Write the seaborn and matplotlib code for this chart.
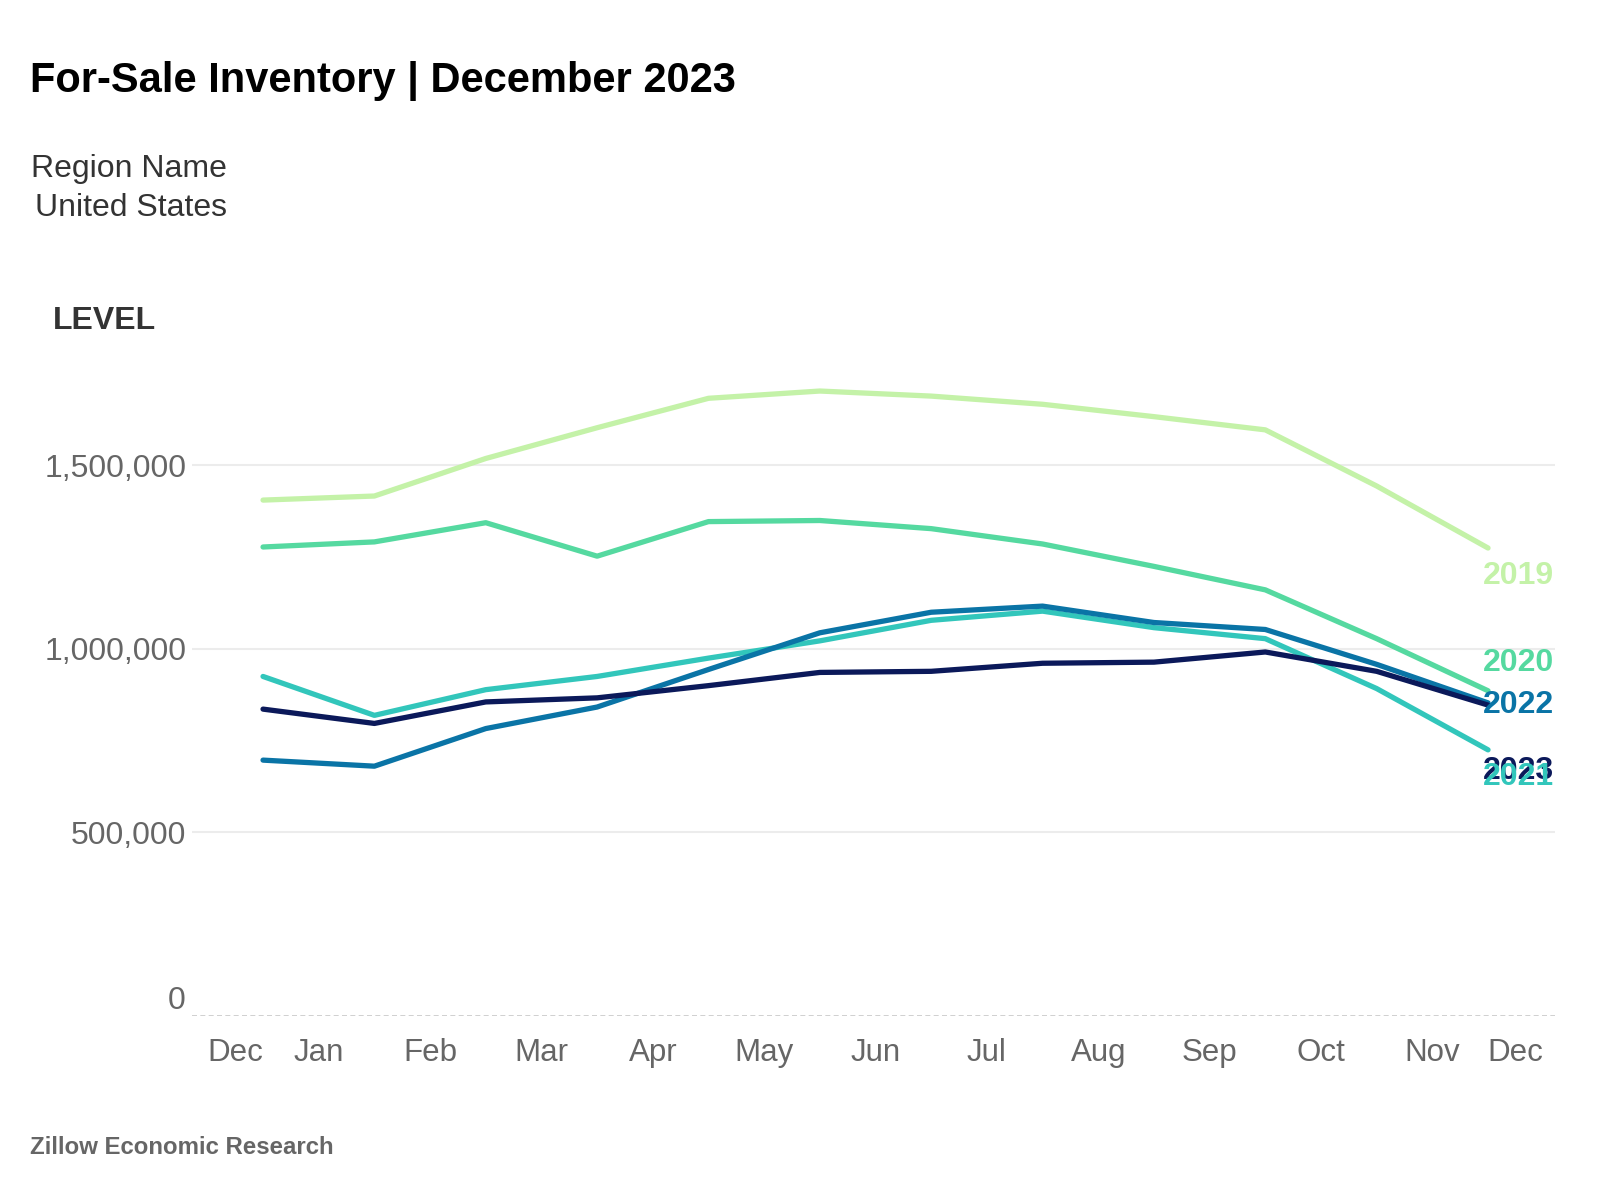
import numpy as np
import pandas as pd
import matplotlib
matplotlib.use("Agg")
import matplotlib.pyplot as plt
import seaborn as sns

# month ticks (Dec 2022 .. Dec 2023 style axis), data sits mid-month
tick_labels = ["Dec", "Jan", "Feb", "Mar", "Apr", "May", "Jun",
               "Jul", "Aug", "Sep", "Oct", "Nov", "Dec"]
months = ["Dec", "Jan", "Feb", "Mar", "Apr", "May", "Jun",
          "Jul", "Aug", "Sep", "Oct", "Nov"]

years = ["2019", "2020", "2021", "2022", "2023"]

inv_2019 = [1405600, 1416700, 1519000, 1602800, 1683000, 1702800,
            1689000, 1666700, 1633000, 1597000, 1444000, 1275000]
inv_2020 = [1277800, 1291700, 1344000, 1252800, 1347000, 1350000,
            1327800, 1286000, 1225000, 1161000, 1028000, 886000]
inv_2021 = [925000, 819000, 889000, 925000, 975000, 1022000,
            1078000, 1103000, 1058000, 1028000, 892000, 725000]
inv_2022 = [697000, 680500, 783000, 841700, 944000, 1044000,
            1100000, 1116700, 1072000, 1053000, 958000, 853000]
inv_2023 = [836000, 797000, 855600, 866700, 900000, 936000,
            939000, 961000, 964000, 991700, 939000, 847000]

colors = {
    "2019": "#c4f2a8",
    "2020": "#55d9a0",
    "2021": "#32c6bb",
    "2022": "#0a74a6",
    "2023": "#0b195a",
}

# where the end labels sit after de-overlapping (value units)
label_y = {"2019": 1200000, "2020": 961000, "2021": 652000,
           "2022": 847000, "2023": 667000}

series = {"2019": inv_2019, "2020": inv_2020, "2021": inv_2021,
          "2022": inv_2022, "2023": inv_2023}
rows = []
for yr in years:
    for i, v in enumerate(series[yr]):
        rows.append({"x": i + 0.5, "value": v, "year": yr})
df = pd.DataFrame(rows)

sns.set_style("white")
plt.rcParams["font.family"] = ["Liberation Sans", "DejaVu Sans"]

fig = plt.figure(figsize=(15.98, 11.98), dpi=100)
ax = fig.add_axes([0.120, 0.152, 0.853, 0.582])

for yv in [500000, 1000000, 1500000]:
    ax.axhline(yv, color="#ececec", lw=1.5, zorder=0)
ax.axhline(0, color="#c8c8c8", lw=1.2, ls=(0, (3, 2)), zorder=0)

sns.lineplot(data=df, x="x", y="value", hue="year", palette=colors,
             hue_order=years, linewidth=3.8, legend=False, ax=ax,
             solid_capstyle="round")

for yr in ["2019", "2020", "2022", "2023", "2021"]:
    ax.text(12.09, label_y[yr], yr, color=colors[yr], fontsize=23,
            fontweight="bold", ha="right", va="center")

ax.set_xlim(-0.14, 12.1)
ax.set_ylim(0, 1900000)
ax.set_xticks(np.arange(13))
ax.set_xticklabels(tick_labels)
ax.set_yticks([500000, 1000000, 1500000])
ax.set_yticklabels(["500,000", "1,000,000", "1,500,000"])
ax.text(-0.2, 0, "0", ha="right", va="bottom", fontsize=23, color="#666666")
ax.tick_params(axis="y", length=0, pad=4, labelsize=23, labelcolor="#666666")
ax.tick_params(axis="x", length=7, width=1, color="#dddddd", pad=9,
               labelsize=22.5, labelcolor="#666666")
xl = ax.get_xticklabels()
xl[0].set_ha("left")
xl[-1].set_ha("right")
ax.set_xlabel("")
ax.set_ylabel("")
sns.despine(ax=ax, left=True, bottom=True)

fig.text(30 / 1598, 1 - 81 / 1198, "For-Sale Inventory | December 2023",
         fontsize=30, fontweight="bold", color="#000000", va="center")
fig.text(227 / 1598, 1 - 169 / 1198, "Region Name", fontsize=23,
         color="#333333", ha="right", va="center")
fig.text(227 / 1598, 1 - 208 / 1198, "United States", fontsize=23,
         color="#333333", ha="right", va="center")
fig.text(53 / 1598, 1 - 321 / 1198, "LEVEL", fontsize=23, fontweight="bold",
         color="#333333", va="center")
fig.text(30 / 1598, 1 - 1147 / 1198, "Zillow Economic Research", fontsize=17.3,
         fontweight="bold", color="#666666", va="center")

fig.savefig("out.png", dpi=100)
